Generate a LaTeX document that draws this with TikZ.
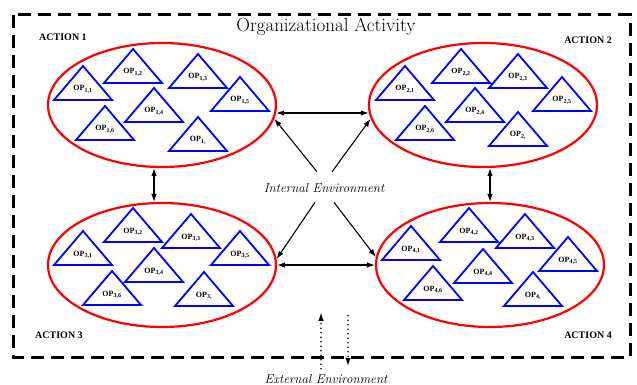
\documentclass[tikz,border=0pt]{standalone}
\usepackage{fontspec}
\newfontfamily\timesfont{Liberation Serif}
\usetikzlibrary{arrows.meta, positioning, calc, shapes.geometric}

\begin{document}
\begin{tikzpicture}[
    x=1pt, y=-1pt,
    >=Latex,
    action/.style = {draw=red, ellipse, line width=2.2pt, minimum width=228pt, minimum height=124pt, inner sep=0pt},
    optri/.style = {draw=blue, line width=1.8pt, line join=miter},
    oplabel/.style = {font=\timesfont\fontsize{8}{9}\selectfont\bfseries, inner sep=0pt, anchor=base},
    actlabel/.style = {font=\timesfont\fontsize{10}{11}\selectfont\bfseries, inner sep=0pt, anchor=base},
    envlabel/.style = {font=\fontsize{13}{15}\selectfont\itshape, inner sep=2pt, anchor=base},
    frame/.style = {draw, line width=3pt, dash pattern=on 13pt off 7pt},
    link/.style = {{Latex[length=8pt, width=5.5pt]}-{Latex[length=8pt, width=5.5pt]}, line width=1.1pt},
    feed/.style = {-{Latex[length=8pt, width=5.5pt]}, line width=1.1pt},
    extarrow/.style = {-{Latex[length=9pt, width=5.5pt]}, line width=1.8pt, dash pattern=on 0pt off 4.5pt, line cap=round}
]
\useasboundingbox (0,0) rectangle (637,385);

% outer frame and title
\draw[frame] (13,15) rectangle (630,357);
\node[font=\fontsize{19}{21}\selectfont, inner sep=0pt, anchor=base] (title) at (326,32) {Organizational Activity};

% the four actions
\node[action] (act1) at (162,105) {};
\node[action] (act2) at (483,105) {};
\node[action] (act3) at (162,265) {};
\node[action] (act4) at (490,265) {};

\node[actlabel] (lab1) at (63,41) {ACTION 1};
\node[actlabel] (lab2) at (588,44) {ACTION 2};
\node[actlabel] (lab3) at (59,338) {ACTION 3};
\node[actlabel] (lab4) at (588,338) {ACTION 4};

% operations (apex x / apex y / name / index)
\foreach \ax/\ay/\nm/\sub in {
    83/66/op11/{1,1}, 133/49/op12/{1,2}, 198/54/op13/{1,3}, 154/88/op14/{1,4},
    240/77/op15/{1,5}, 105/106/op16/{1,6}, 198/117/op17/{1,},
    405/66/op21/{2,1}, 461/49/op22/{2,2}, 518/54/op23/{2,3}, 475/88/op24/{2,4},
    562/77/op25/{2,5}, 425/106/op26/{2,6}, 518/112/op27/{2,},
    83/231/op31/{3,1}, 133/208/op32/{3,2}, 191/214/op33/{3,3}, 154/248/op34/{3,4},
    240/231/op35/{3,5}, 112/271/op36/{3,6}, 204/272/op37/{3,},
    411/226/op41/{4,1}, 469/208/op42/{4,2}, 525/214/op43/{4,3}, 483/249/op44/{4,4},
    568/237/op45/{4,5}, 433/266/op46/{4,6}, 533/272/op47/{4,}} {
  \draw[optri] (\ax,\ay) -- ++(29,34) -- ++(-58,0) -- cycle;
  \node[oplabel] (\nm) at (\ax,\ay+25) {OP\textsubscript{\sub}};
}

% environments
\node[envlabel] (ienv) at (324,192) {Internal Environment};
\node[envlabel] (eenv) at (326,383) {External Environment};

% links between actions
\draw[link] (act1.-4) -- (act2.184);
\draw[link] (act3.east) -- (act4.west);
\draw[link] ($(act1.south)+(-8,0)$) -- ($(act3.north)+(-8,0)$);
\draw[link] ($(act2.south)+(7,0)$) -- (act4.north);

% internal environment to actions
\draw[feed] ($(ienv.north)+(-7,-9)$) -- (act1.-7);
\draw[feed] ($(ienv.north)+(8,-9)$) -- (act2.187);
\draw[feed] ($(ienv.south)+(-9,8)$) -- (act3.3);
\draw[feed] ($(ienv.south)+(10,8)$) -- (act4.176);

% external environment
\draw[extarrow] ($(eenv.north)+(-5,-3)$) -- ++(0,-57);
\draw[extarrow] ($(eenv.north)+(22,-56)$) -- ++(0,51);

\end{tikzpicture}
\end{document}
